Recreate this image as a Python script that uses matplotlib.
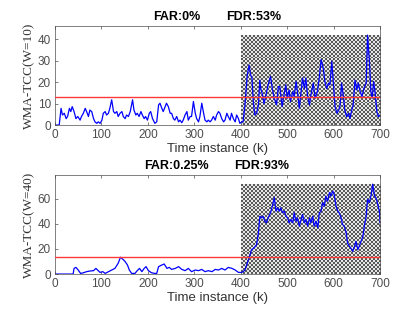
import numpy as np
import matplotlib
matplotlib.use("Agg")
import matplotlib.pyplot as plt

plt.rcParams["font.family"] = ["Liberation Sans", "DejaVu Sans"]

# ------------------
# DATA
# ------------------

k_top = [0, 9, 13, 16, 20, 24, 27, 31, 34, 37, 41, 45, 49, 54, 57, 61, 65, 68, 72, 75,
         79, 83, 86, 90, 93, 97, 101, 104, 108, 111, 115, 118, 122, 126, 129, 133, 136,
         140, 144, 147, 151, 154, 158, 162, 167, 170, 174, 177, 181, 185, 188, 192, 195,
         199, 203, 206, 210, 215, 219, 223, 226, 230, 233, 237, 240, 244, 248, 251, 255,
         258, 262, 266, 269, 273, 276, 280, 284, 287, 291, 294, 298, 302, 305, 309, 312,
         316, 320, 323, 327, 330, 334, 337, 341, 345, 348, 352, 355, 359, 363, 366, 370,
         373, 377, 380, 384, 388, 391, 395, 398, 402, 405, 409, 414, 418, 421, 424, 427,
         430, 434, 438, 441, 443, 447, 450, 454, 459, 464, 468, 472, 477, 481, 484, 489,
         493, 497, 500, 504, 507, 512, 515, 519, 522, 526, 530, 533, 537, 540, 544, 548,
         551, 556, 560, 565, 569, 573, 578, 581, 585, 589, 592, 596, 599, 603, 607, 611,
         614, 617, 621, 624, 628, 632, 635, 639, 642, 646, 650, 653, 657, 661, 665, 670,
         673, 677, 680, 683, 686, 689, 693, 696, 700]
v_top = [0, 0, 7.8, 4.7, 5.5, 3.0, 4.0, 7.8, 6.3, 8.6, 6.3, 3.0, 4.0, 2.3, 4.0, 5.5, 7.8,
         6.3, 4.0, 7.0, 6.3, 3.0, 1.5, 0.8, 1.5, 0.8, 2.3, 5.5, 6.3, 4.7, 5.5, 7.8, 11.8,
         6.3, 5.5, 6.3, 4.0, 5.5, 6.3, 4.0, 3.0, 4.7, 4.0, 6.3, 11.8, 7.0, 4.7, 5.5, 4.0,
         6.3, 4.7, 3.0, 4.0, 2.3, 5.5, 6.3, 3.0, 0.8, 1.5, 9.4, 10.2, 7.8, 6.3, 8.6, 10.2,
         8.6, 5.5, 5.5, 3.0, 2.3, 4.0, 1.5, 2.3, 1.1, 2.3, 4.7, 6.3, 2.3, 4.0, 4.0, 11.0,
         5.5, 3.0, 1.5, 4.0, 10.2, 5.5, 2.3, 1.5, 2.3, 1.5, 2.3, 4.0, 2.3, 4.7, 6.3, 5.5,
         3.0, 1.5, 2.3, 5.5, 4.0, 2.3, 5.5, 3.0, 1.5, 4.7, 3.0, 0.8, 1.5, 1.5, 9.4, 23.5,
         28.0, 23.5, 22.0, 11.0, 4.7, 5.5, 9.4, 21.0, 17.0, 14.0, 10.0, 14.0, 18.8, 22.7,
         17.0, 12.5, 9.4, 18.0, 18.0, 8.6, 14.0, 18.8, 12.5, 16.4, 11.0, 15.7, 13.3, 20.4,
         15.7, 7.8, 15.7, 22.0, 17.0, 22.0, 13.3, 9.4, 14.0, 19.6, 12.5, 15.7, 22.0, 30.6,
         26.0, 20.4, 17.0, 19.6, 18.8, 29.8, 20.4, 8.6, 5.5, 7.0, 9.4, 19.6, 13.3, 7.0, 3.9,
         5.5, 3.0, 7.0, 9.4, 21.0, 16.4, 19.6, 15.7, 13.3, 17.0, 19.6, 42.0, 29.8, 15.7,
         12.5, 20.4, 15.7, 6.3, 3.9, 4.7]

k_bot = [0, 39, 41, 45, 50, 55, 61, 68, 75, 83, 88, 93, 97, 103, 108, 115, 122, 129, 136,
         141, 146, 151, 156, 160, 165, 172, 177, 182, 187, 192, 196, 201, 208, 215, 219,
         223, 230, 235, 241, 246, 251, 259, 266, 273, 280, 287, 294, 302, 309, 316, 323,
         330, 338, 345, 352, 359, 366, 373, 381, 388, 395, 402, 405, 409, 414, 420, 423,
         428, 434, 438, 441, 445, 448, 452, 455, 459, 464, 468, 472, 476, 479, 483, 486,
         490, 494, 497, 501, 504, 508, 512, 515, 519, 522, 526, 530, 533, 537, 540, 544,
         548, 551, 555, 558, 562, 566, 569, 573, 576, 580, 583, 587, 591, 594, 598, 601,
         605, 609, 612, 616, 619, 623, 627, 630, 634, 637, 641, 645, 648, 652, 655, 659,
         663, 666, 670, 673, 677, 681, 684, 688, 691, 695, 699, 700]
v_bot = [0, 0, 4.5, 5.3, 3.2, 0.5, 1.0, 1.9, 2.4, 2.7, 4.5, 2.7, 1.3, 1.9, 0.5, 1.9, 3.2,
         4.5, 8.6, 13.4, 11.8, 9.9, 7.2, 3.2, 0.5, 0.5, 2.7, 4.5, 1.9, 4.5, 5.9, 2.7, 1.0,
         0.5, 0.5, 5.9, 7.2, 8.0, 4.5, 5.3, 3.7, 4.5, 5.9, 3.7, 2.7, 4.5, 1.9, 3.2, 2.7,
         3.7, 1.9, 2.7, 1.9, 3.7, 3.2, 4.5, 3.2, 5.3, 4.5, 3.2, 1.3, 1.3, 1.9, 3.2, 8.6,
         15.3, 19.3, 20.6, 23.3, 32.7, 46.0, 44.7, 46.0, 42.0, 40.7, 44.7, 48.7, 54.0, 60.8,
         50.0, 52.7, 50.0, 52.7, 48.7, 50.0, 46.0, 44.7, 40.7, 43.4, 40.7, 48.7, 42.0, 44.7,
         38.0, 43.4, 47.4, 40.7, 43.4, 38.0, 44.7, 40.7, 46.0, 38.0, 42.0, 36.7, 48.7, 50.0,
         56.8, 54.0, 62.0, 58.0, 64.8, 62.0, 66.0, 63.5, 54.0, 50.0, 48.7, 44.7, 39.4, 38.0,
         32.7, 24.6, 22.0, 20.6, 18.0, 22.0, 26.0, 19.3, 22.0, 26.0, 30.0, 38.0, 46.0, 59.4,
         56.8, 63.5, 71.5, 62.0, 60.8, 55.4, 48.7, 40.7]

thresholds = [13.3, 13.4]
fault_start = 400
n_samples = 700
ylabels = ["WMA-TCC(W=10)", "WMA-TCC(W=40)"]
far_labels = ["FAR:0%", "FAR:0.25%"]
fdr_labels = ["FDR:53%", "FDR:93%"]
fdr_xpos = [0.612, 0.637]

fig = plt.figure(figsize=(4.2, 3.15), dpi=100)
ax_top = fig.add_axes([0.131, 0.603, 0.774, 0.314])
ax_bot = fig.add_axes([0.131, 0.130, 0.774, 0.314])

series = [(k_top, v_top), (k_bot, v_bot)]
grey = "#4d4d4d"

for i, ax in enumerate([ax_top, ax_bot]):
    k, v = series[i]
    vmax = max(v)

    # checkered fault region
    checker = np.indices((46, 70)).sum(axis=0) % 2
    ax.imshow(checker, cmap="gray", vmin=-0.64, vmax=1.18, aspect="auto",
              interpolation="nearest", extent=[fault_start, n_samples, 0, vmax],
              zorder=0)

    ax.plot(k, v, color="#0000ff", linewidth=0.9, zorder=2)
    ax.axhline(thresholds[i], color="#ff3838", linewidth=1.0, zorder=3)

    ax.set_xlim(0, n_samples)
    ax.set_ylim(0, vmax * 1.1)
    ax.set_xticks(range(0, 701, 100))
    if i == 0:
        ax.set_yticks([0, 10, 20, 30, 40])
    else:
        ax.set_yticks([0, 20, 40, 60])

    ax.tick_params(direction="in", length=2.5, width=0.5, top=True, right=True,
                   labelsize=8.5, colors=grey, pad=3)
    for s in ax.spines.values():
        s.set_color(grey)
        s.set_linewidth(0.5)

    ax.set_xlabel("Time instance (k)", fontsize=9.5, color="#333333", labelpad=1)
    ax.set_ylabel(ylabels[i], fontsize=9.5, color="#333333",
                  family=["Liberation Serif", "DejaVu Serif"], labelpad=2)

    ax.text(0.375, 1.03, far_labels[i], transform=ax.transAxes, ha="center",
            va="bottom", fontsize=9, fontweight="bold")
    ax.text(fdr_xpos[i], 1.03, fdr_labels[i], transform=ax.transAxes, ha="center",
            va="bottom", fontsize=9, fontweight="bold")

fig.savefig("out.png", dpi=100)
